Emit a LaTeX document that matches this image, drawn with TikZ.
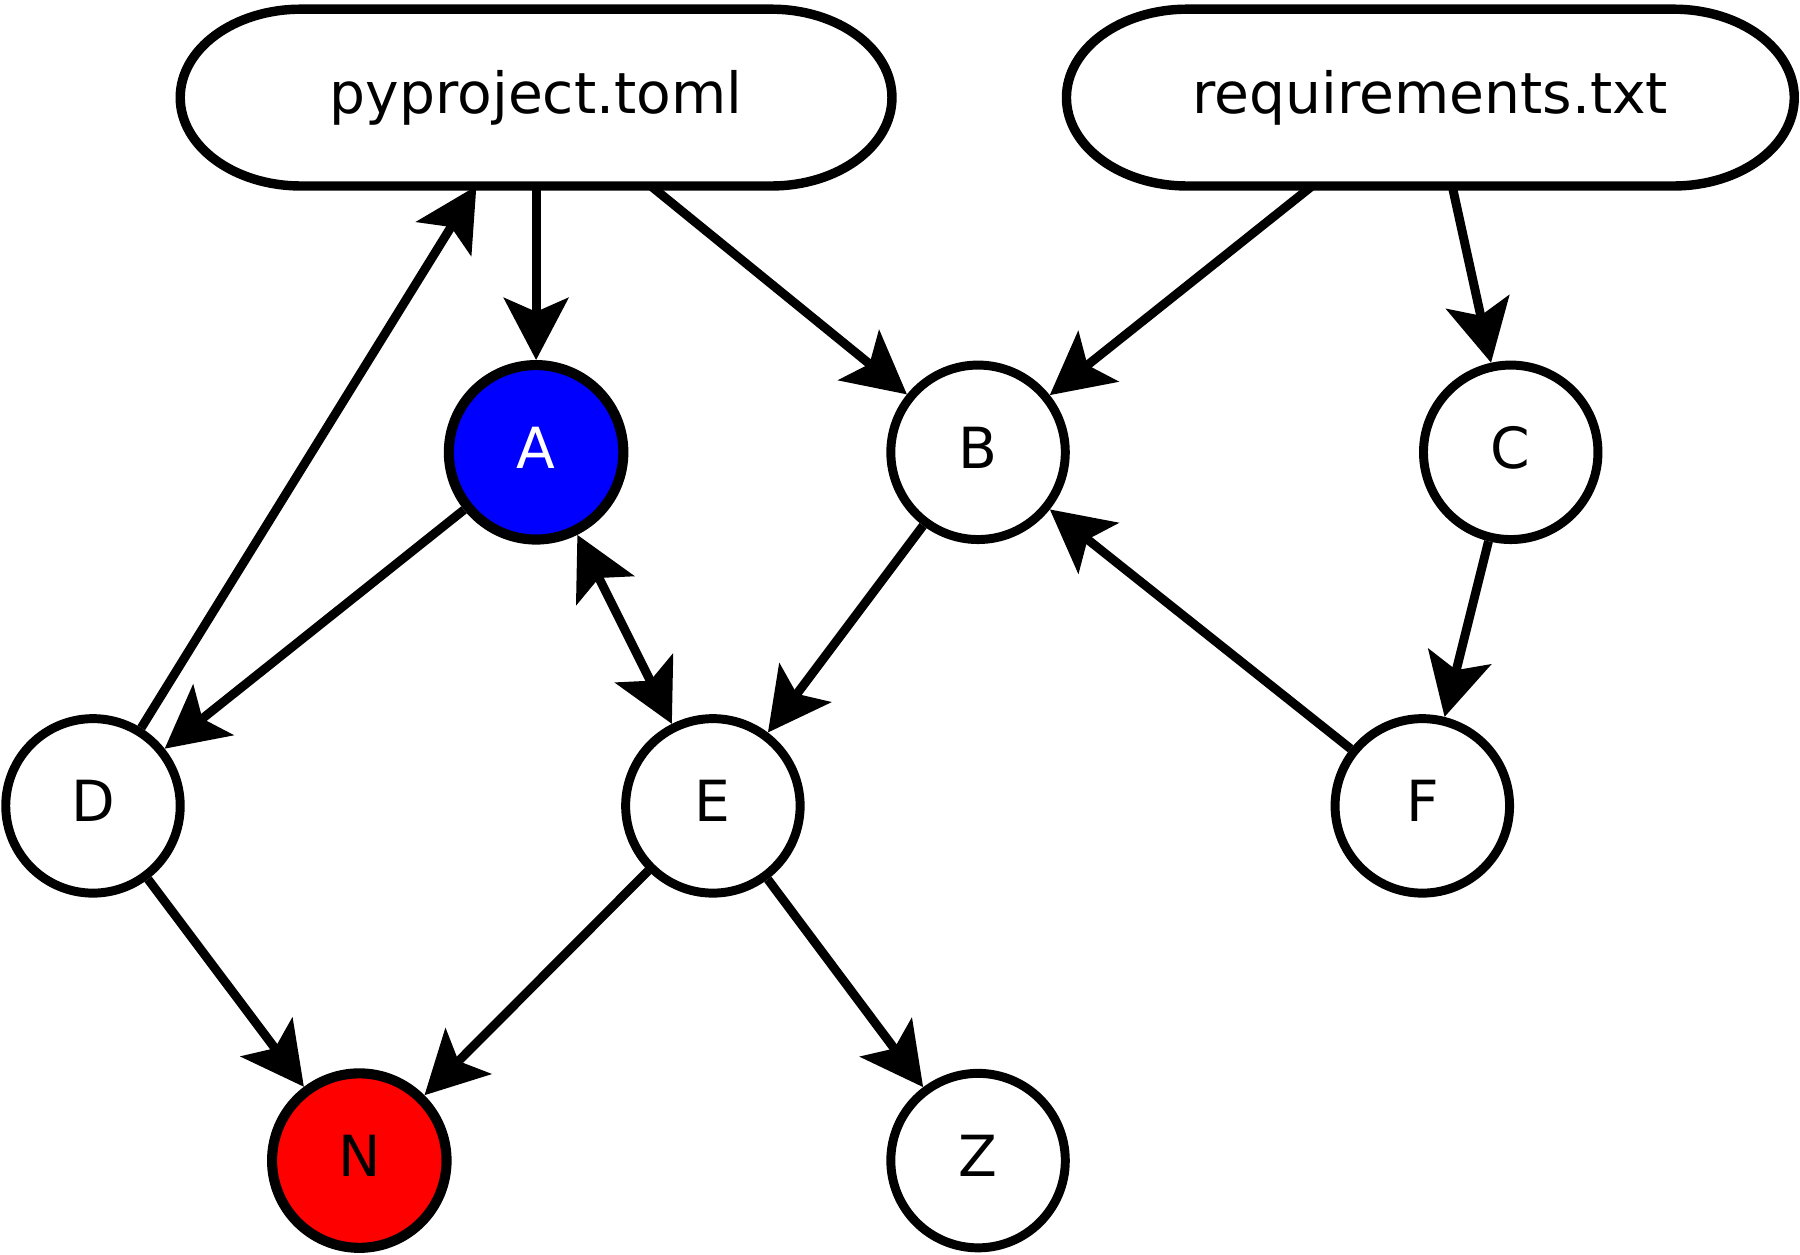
\documentclass[tikz,border=0pt]{standalone}
\usepackage{fontspec}
\setmainfont{DejaVu Sans}
\usetikzlibrary{arrows.meta,calc}
\begin{document}
\begin{tikzpicture}[x=0.5pt,y=-0.5pt,
  >={Stealth[length=27pt,width=28pt,inset=6pt]},
  every node/.style={font=\fontsize{24.7pt}{29pt}\selectfont, text height=19.6pt, text depth=5.6pt, inner sep=0pt},
  gnode/.style={circle, draw, line width=3.9pt, minimum size=76pt},
  thicknode/.style={gnode, line width=4.4pt},
  filebox/.style={rectangle, minimum width=310pt, minimum height=77pt, outer sep=0pt},
  stadium/.style={line width=4.1pt},
  conn/.style={line width=3.9pt, ->},
]
\useasboundingbox (0,0) rectangle (1568,1093);
\node[filebox] (py) at (467,85) {pyproject.toml};
\node[filebox, minimum width=317pt] (req) at (1246,85) {requirements.txt};
\foreach \n in {py,req}{
  \draw[stadium] ([xshift=52.5pt]\n.north west) -- ([xshift=-52.5pt]\n.north east)
    arc[start angle=90,end angle=-90,x radius=52.5pt,y radius=38.5pt]
    -- ([xshift=52.5pt]\n.south west)
    arc[start angle=270,end angle=90,x radius=52.5pt,y radius=38.5pt] -- cycle;
}
\node[thicknode, fill=blue, text=white] (A) at (467,394) {A};
\node[gnode] (B) at (852,394) {B};
\node[gnode] (C) at (1316,394) {C};
\node[gnode] (D) at (81,702) {D};
\node[gnode] (E) at (621,702) {E};
\node[gnode] (F) at (1239,702) {F};
\node[thicknode, fill=red] (N) at (313,1011) {N};
\node[gnode] (Z) at (852,1011) {Z};

\draw[conn] (py) -- (A);
\draw[conn] ($(py.south)+(100,0)$) -- (B);
\draw[conn] (D) -- ($(py.south)+(-52,0)$);
\draw[conn] (A) -- (D);
\draw[conn, <->] (A) -- (E);
\draw[conn] ($(req.south)+(-103,0)$) -- (B);
\draw[conn] ($(req.south)+(19,0)$) -- (C);
\draw[conn] (B) -- (E);
\draw[conn] (C) -- (F);
\draw[conn] (F) -- (B);
\draw[conn] (D) -- (N);
\draw[conn] (E) -- (N);
\draw[conn] (E) -- (Z);
\end{tikzpicture}
\end{document}
